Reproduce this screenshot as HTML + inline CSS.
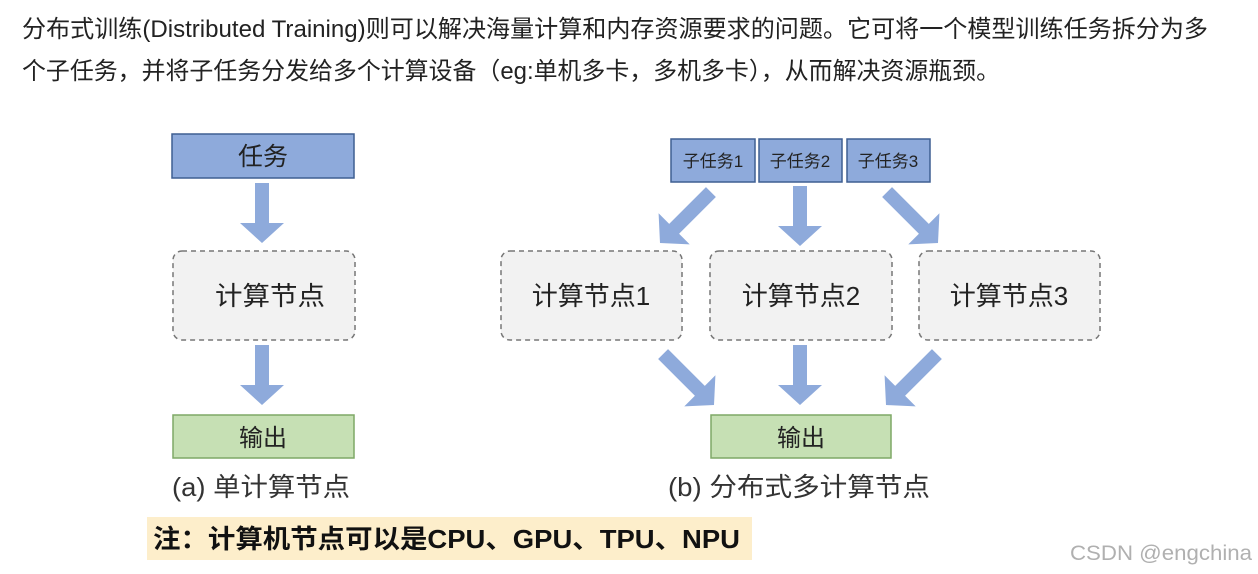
<!DOCTYPE html>
<html><head><meta charset="utf-8"><style>
body{margin:0;background:#fff;width:1258px;height:574px;overflow:hidden;font-family:"Liberation Sans","Noto Sans CJK SC",sans-serif;}
</style></head><body>
<svg width="1258" height="574" xmlns="http://www.w3.org/2000/svg" style="position:absolute;left:0;top:0">
<defs>
<polygon id="ar" points="-7,-60 7,-60 7,-20 22,-20 0,0 -22,-20 -7,-20" fill="#8eaadb"/>
<polygon id="ar2" points="-7,-72 7,-72 7,-20 22,-20 0,0 -22,-20 -7,-20" fill="#8eaadb"/>
</defs>
<g font-family="Liberation Sans, Noto Sans CJK SC, sans-serif" fill="#222">
<text x="22" y="37" font-size="24" textLength="1186" lengthAdjust="spacingAndGlyphs">分布式训练(Distributed Training)则可以解决海量计算和内存资源要求的问题。它可将一个模型训练任务拆分为多</text>
<text x="22" y="79" font-size="24" textLength="978" lengthAdjust="spacingAndGlyphs">个子任务，并将子任务分发给多个计算设备（eg:单机多卡，多机多卡），从而解决资源瓶颈。</text>
</g>
<!-- left -->
<rect x="172" y="134" width="182" height="44" fill="#8eaadb" stroke="#3f5f92" stroke-width="1.5"/>
<text x="263" y="165" font-size="25" text-anchor="middle" fill="#222" font-family="Liberation Sans, Noto Sans CJK SC, sans-serif">任务</text>
<use href="#ar" transform="translate(262,243)"/>
<rect x="173" y="251" width="182" height="89" rx="9" fill="#f2f2f2" stroke="#777" stroke-width="1.5" stroke-dasharray="5,4"/>
<text x="270" y="305" font-size="26" text-anchor="middle" fill="#222" font-family="Liberation Sans, Noto Sans CJK SC, sans-serif" textLength="110" lengthAdjust="spacingAndGlyphs">计算节点</text>
<use href="#ar" transform="translate(262,405)"/>
<rect x="173" y="415" width="181" height="43" fill="#c6e0b4" stroke="#7fa866" stroke-width="1.5"/>
<text x="263" y="446" font-size="24" text-anchor="middle" fill="#222" font-family="Liberation Sans, Noto Sans CJK SC, sans-serif">输出</text>
<text x="172" y="496" font-size="26" fill="#333" font-family="Liberation Sans, Noto Sans CJK SC, sans-serif" textLength="178" lengthAdjust="spacingAndGlyphs">(a) 单计算节点</text>
<!-- right -->
<g font-family="Liberation Sans, Noto Sans CJK SC, sans-serif" font-size="17" fill="#222" text-anchor="middle">
<rect x="671" y="139" width="84" height="43" fill="#8eaadb" stroke="#3f5f92" stroke-width="1.5"/>
<text x="713" y="167">子任务1</text>
<rect x="759" y="139" width="83" height="43" fill="#8eaadb" stroke="#3f5f92" stroke-width="1.5"/>
<text x="800" y="167">子任务2</text>
<rect x="847" y="139" width="83" height="43" fill="#8eaadb" stroke="#3f5f92" stroke-width="1.5"/>
<text x="888" y="167">子任务3</text>
</g>
<use href="#ar2" transform="translate(660,243) rotate(45)"/>
<use href="#ar" transform="translate(800,246)"/>
<use href="#ar2" transform="translate(938,243) rotate(-45)"/>
<g font-family="Liberation Sans, Noto Sans CJK SC, sans-serif" font-size="26" fill="#222" text-anchor="middle">
<rect x="501" y="251" width="181" height="89" rx="9" fill="#f2f2f2" stroke="#777" stroke-width="1.5" stroke-dasharray="5,4"/>
<text x="591" y="305">计算节点1</text>
<rect x="710" y="251" width="182" height="89" rx="9" fill="#f2f2f2" stroke="#777" stroke-width="1.5" stroke-dasharray="5,4"/>
<text x="801" y="305">计算节点2</text>
<rect x="919" y="251" width="181" height="89" rx="9" fill="#f2f2f2" stroke="#777" stroke-width="1.5" stroke-dasharray="5,4"/>
<text x="1009" y="305">计算节点3</text>
</g>
<use href="#ar2" transform="translate(714,405) rotate(-45)"/>
<use href="#ar" transform="translate(800,405)"/>
<use href="#ar2" transform="translate(886,405) rotate(45)"/>
<rect x="711" y="415" width="180" height="43" fill="#c6e0b4" stroke="#7fa866" stroke-width="1.5"/>
<text x="801" y="446" font-size="24" text-anchor="middle" fill="#222" font-family="Liberation Sans, Noto Sans CJK SC, sans-serif">输出</text>
<text x="668" y="496" font-size="26" fill="#333" font-family="Liberation Sans, Noto Sans CJK SC, sans-serif" textLength="262" lengthAdjust="spacingAndGlyphs">(b) 分布式多计算节点</text>
<!-- note -->
<rect x="147" y="517" width="605" height="43" fill="#fdeecb"/>
<text x="153" y="548" font-size="26" font-weight="bold" fill="#111" font-family="Liberation Sans, Noto Sans CJK SC, sans-serif" textLength="587" lengthAdjust="spacingAndGlyphs">注：计算机节点可以是CPU、GPU、TPU、NPU</text>
<text x="1070" y="560" font-size="21" fill="#b0b0b0" font-family="Liberation Sans, sans-serif" textLength="182" lengthAdjust="spacingAndGlyphs">CSDN @engchina</text>
</svg>
</body></html>
